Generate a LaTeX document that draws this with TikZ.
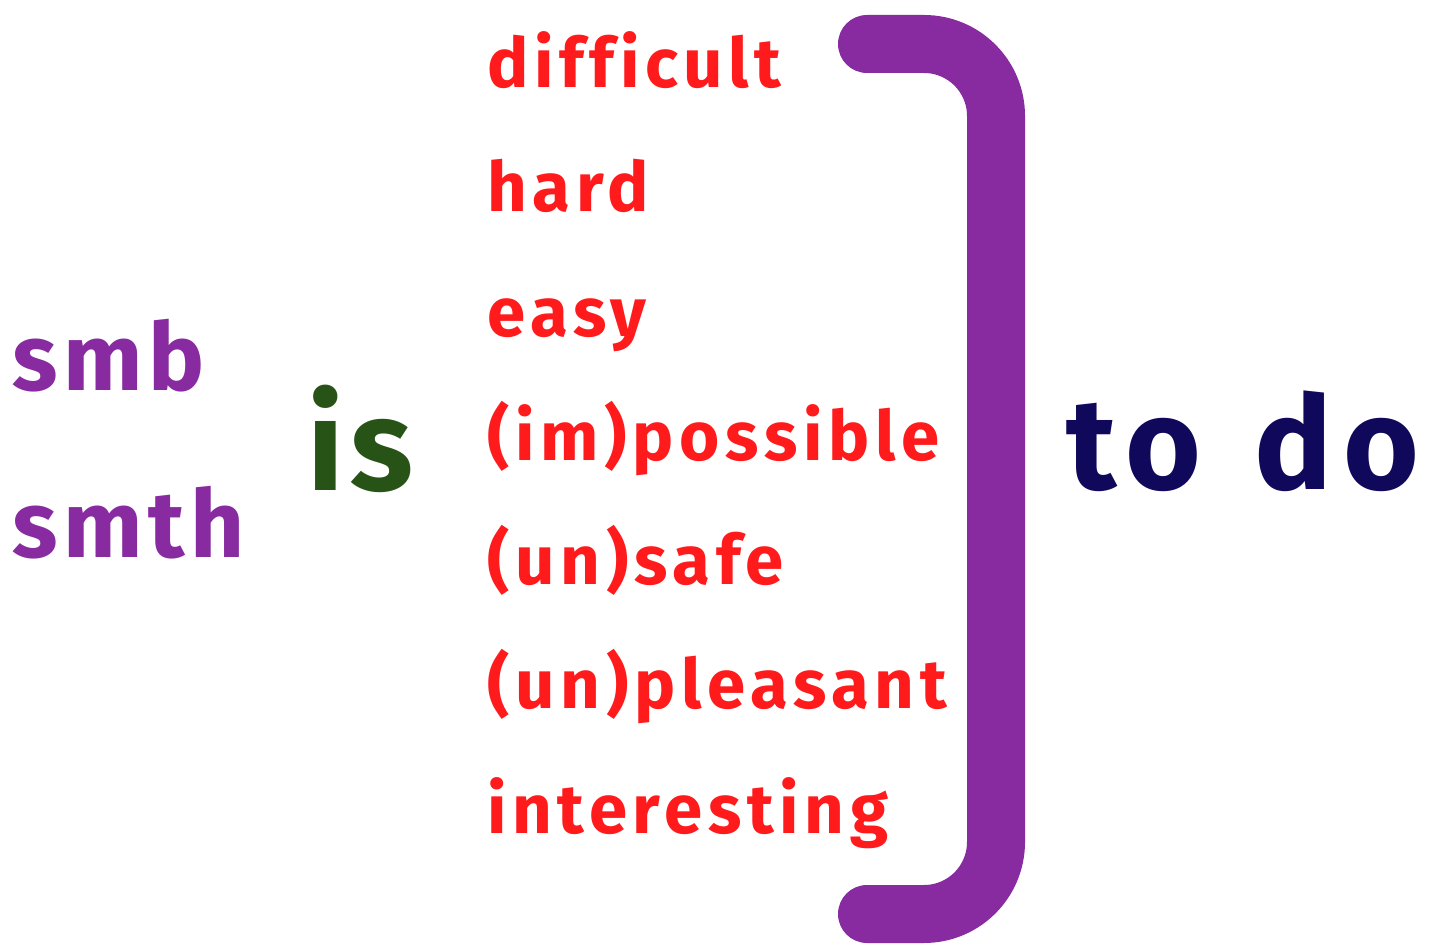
\documentclass[tikz,border=0pt]{standalone}
\usepackage{fontspec}
\setmainfont{Fira Sans}[Ligatures=NoCommon]
\definecolor{wred}{RGB}{255,26,28}
\definecolor{wpurple}{RGB}{137,43,160}
\definecolor{wgreen}{RGB}{39,83,22}
\definecolor{wnavy}{RGB}{16,8,90}
\begin{document}
\begin{tikzpicture}[x=1pt,y=1pt,
  word/.style={anchor=base west,inner sep=0pt,text=wred,font=\bfseries\fontsize{69}{69}\selectfont\addfontfeatures{LetterSpace=8.3}},
  subj/.style={anchor=base west,inner sep=0pt,text=wpurple,font=\bfseries\fontsize{94}{94}\selectfont\addfontfeatures{LetterSpace=6}},
  big/.style={anchor=base west,inner sep=0pt,font=\bfseries\fontsize{130}{130}\selectfont\addfontfeatures{LetterSpace=9}},
  verb/.style={anchor=base west,inner sep=0pt,text=wgreen,font=\bfseries\fontsize{130}{130}\selectfont\addfontfeatures{LetterSpace=5}}]
\useasboundingbox (0,0) rectangle (1433,946);
\node[subj] (smb) at (12,555) {smb};
\node[subj] (smth) at (12,388) {smth};
\node[verb] (is) at (307,455) {is};
\node[word] (w1) at (487,858) {difficult};
\node[word] (w2) at (487,734) {hard};
\node[word] (w3) at (487,609) {easy};
\node[word] (w4) at (487,485) {(im)possible};
\node[word] (w5) at (487,361) {(un)safe};
\node[word] (w6) at (487,237) {(un)pleasant};
\node[word] (w7) at (487,113) {interesting};
\node[big,text=wnavy] (todo) at (1066,456) {to\kern10pt\ do};
\draw[wpurple,line width=58pt,line cap=round]
  (867,902) -- (924,902) arc[start angle=90,end angle=0,radius=72]
  -- (996,104) arc[start angle=0,end angle=-90,radius=72] -- (867,32);
\end{tikzpicture}
\end{document}
